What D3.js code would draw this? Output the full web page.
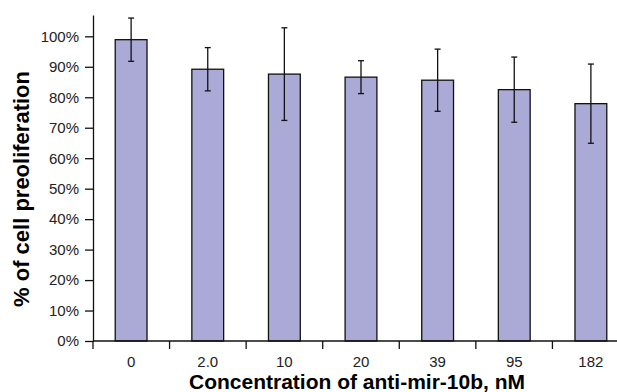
<!DOCTYPE html>
<html>
<head>
<meta charset="utf-8">
<script src="https://cdn.jsdelivr.net/npm/d3@7"></script>
<style>
  body { margin: 0; background: #fff; }
  svg { display: block; font-family: "Liberation Sans", Arial, sans-serif; }
</style>
</head>
<body>
<svg id="chart" width="617" height="392"></svg>
<script>
// concentrations (nM) and mean proliferation with error
const concentrations = ['0', '2.0', '10', '20', '39', '95', '182'];
const proliferation = [0.989, 0.892, 0.876, 0.866, 0.856, 0.825, 0.779];
const errors = [0.071, 0.071, 0.152, 0.054, 0.102, 0.107, 0.130];
const yTicks = [0, 0.1, 0.2, 0.3, 0.4, 0.5, 0.6, 0.7, 0.8, 0.9, 1.0];

const margin = {top: 15, left: 93, bottom: 51};
const height = 392;
const plotRight = 629; // the last band runs off the picture

const svg = d3.select('#chart');

const x = d3.scaleBand()
  .domain(d3.range(concentrations.length))
  .range([margin.left, plotRight])
  .paddingInner(0.585)
  .paddingOuter(0.29);

const y = d3.scaleLinear()
  .domain([0, 1.07])
  .range([height - margin.bottom, margin.top]);

// bars
svg.append('g')
  .selectAll('rect')
  .data(proliferation)
  .join('rect')
  .attr('x', (d, i) => x(i))
  .attr('y', d => y(d))
  .attr('width', x.bandwidth())
  .attr('height', d => y(0) - y(d))
  .attr('fill', '#aba9d5')
  .attr('stroke', '#111')
  .attr('stroke-width', 1.3);

// error bars
const eb = svg.append('g').attr('stroke', '#111').attr('stroke-width', 1.3);
proliferation.forEach((d, i) => {
  const cx = x(i) + x.bandwidth() / 2;
  const hi = y(d + errors[i]);
  const lo = y(d - errors[i]);
  eb.append('line').attr('x1', cx).attr('x2', cx).attr('y1', hi).attr('y2', lo);
  eb.append('line').attr('x1', cx - 3).attr('x2', cx + 3).attr('y1', hi).attr('y2', hi);
  eb.append('line').attr('x1', cx - 3).attr('x2', cx + 3).attr('y1', lo).attr('y2', lo);
});

// y axis
svg.append('g')
  .attr('transform', `translate(${margin.left},0)`)
  .call(d3.axisLeft(y).tickValues(yTicks).tickFormat(d3.format('.0%')).tickSize(8).tickSizeOuter(0).tickPadding(6))
  .call(g => g.selectAll('line, path').attr('stroke', '#111').attr('stroke-width', 1.3))
  .call(g => g.selectAll('text').attr('fill', '#222').style('font-size', '15px'));

// x axis: baseline plus ticks between categories
const gx = svg.append('g');
gx.append('line')
  .attr('x1', margin.left).attr('x2', plotRight)
  .attr('y1', y(0)).attr('y2', y(0))
  .attr('stroke', '#111').attr('stroke-width', 1.3);

gx.selectAll('line.tick')
  .data(d3.range(concentrations.length + 1))
  .join('line')
  .attr('class', 'tick')
  .attr('x1', i => margin.left + i * (plotRight - margin.left) / concentrations.length)
  .attr('x2', i => margin.left + i * (plotRight - margin.left) / concentrations.length)
  .attr('y1', y(0)).attr('y2', y(0) + 8)
  .attr('stroke', '#111').attr('stroke-width', 1.3);

gx.selectAll('text')
  .data(concentrations)
  .join('text')
  .attr('x', (d, i) => x(i) + x.bandwidth() / 2)
  .attr('y', y(0) + 26)
  .attr('text-anchor', 'middle')
  .attr('fill', '#222')
  .style('font-size', '15px')
  .text(d => d);

// axis titles
svg.append('text')
  .attr('x', 357)
  .attr('y', 389)
  .attr('text-anchor', 'middle')
  .style('font-size', '21px')
  .style('font-weight', 'bold')
  .text('Concentration of anti-mir-10b, nM');

svg.append('text')
  .attr('transform', 'translate(29,189) rotate(-90)')
  .attr('text-anchor', 'middle')
  .style('font-size', '22px')
  .style('font-weight', 'bold')
  .text('% of cell preoliferation');
</script>
</body>
</html>
